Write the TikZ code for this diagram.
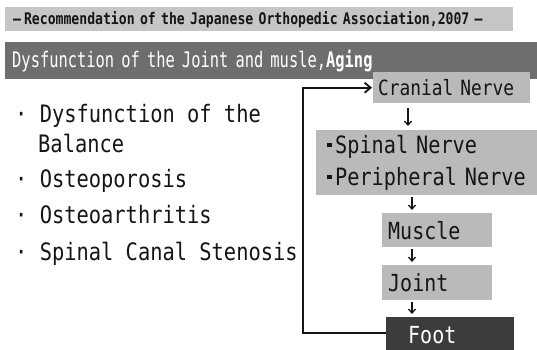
\documentclass[tikz,border=0pt]{standalone}
\usepackage{fontspec}
\usetikzlibrary{arrows.meta}
\newfontfamily\monoA[FakeStretch=0.82]{DejaVu Sans Mono}
\newfontfamily\monoB[FakeStretch=0.72]{DejaVu Sans Mono}
\newfontfamily\monoC[FakeStretch=0.85]{DejaVu Sans Mono}
\definecolor{barlight}{HTML}{C6C6C6}
\definecolor{bardark}{HTML}{6E6E6E}
\definecolor{boxgray}{HTML}{BABABA}
\definecolor{footdark}{HTML}{3C3C3C}
\definecolor{ink}{HTML}{151515}
\newcommand{\sqbul}{\makebox[12pt][c]{\rule[6.5pt]{5pt}{3.5pt}}}
\begin{document}
\begin{tikzpicture}[x=1pt,y=-1pt,
  box/.style={fill=boxgray, text=ink, inner ysep=0pt, anchor=north west, align=left},
  item/.style={inner sep=0pt, anchor=base west, text=ink, font=\monoC\fontsize{24}{28}\selectfont},
  arr/.style={draw=ink, line width=1.3pt, -{Straight Barb[length=4pt,width=7pt]}},
  fbline/.style={draw=ink, line width=1.8pt, -{Straight Barb[length=6pt,width=10pt]}}]
\useasboundingbox (0,0) rectangle (537,349);
\fill[white] (0,0) rectangle (537,349);

% header bars
\node[fill=barlight, text=ink, anchor=north west, minimum height=24pt, inner xsep=8pt, inner ysep=0pt, text width=492pt, align=left,
  font=\monoA\bfseries\fontsize{16}{18}\selectfont] (top) at (5,7) {—\kern3pt Recommendation of the Japanese Orthopedic Association,2007 —};
\node[fill=bardark, text=white, anchor=north west, minimum height=37pt, inner xsep=7pt, inner ysep=0pt, text width=518pt, align=left,
  font=\monoB\fontsize{21.4}{24}\selectfont] (title) at (5,42) {Dysfunction of the Joint and musle,\textbf{Aging}};

% left list
\node[item] (l1) at (15,122) {· Dysfunction of the};
\node[item] (l1b) at (38,152) {Balance};
\node[item] (l2) at (15,187) {· Osteoporosis};
\node[item] (l3) at (15,223) {· Osteoarthritis};
\node[item] (l4) at (15,260) {· Spinal Canal Stenosis};

% right chain
\node[box, inner xsep=5pt, text width=147pt, minimum height=31pt, font=\monoC\fontsize{21}{25}\selectfont] (cranial) at (373,72) {Cranial Nerve};
\node[box, inner xsep=7pt, text width=207pt, minimum height=65pt, font=\monoC\fontsize{23.8}{32}\selectfont] (spinal) at (316,130) {\sqbul Spinal Nerve\\\sqbul Peripheral Nerve};
\node[box, inner xsep=6pt, text width=98pt, minimum height=34pt, font=\monoC\fontsize{23.5}{28}\selectfont] (muscle) at (382,213) {Muscle};
\node[box, inner xsep=6pt, text width=98pt, minimum height=35pt, font=\monoC\fontsize{23.5}{28}\selectfont] (joint) at (382,265) {Joint};
\node[box, fill=footdark, text=white, inner xsep=22pt, text width=84pt, minimum height=36pt, font=\monoC\fontsize{23.5}{28}\selectfont] (foot) at (386,317) {Foot};

\coordinate (a1) at (408,0);
\coordinate (a2) at (412,0);
\draw[arr, shorten <=5pt, shorten >=4pt] (cranial.south -| a1) -- (spinal.north -| a1);
\draw[arr, shorten <=2pt, shorten >=3pt] (spinal.south -| a2) -- (muscle.north -| a2);
\draw[arr, shorten <=2pt, shorten >=3pt] (muscle.south -| a2) -- (joint.north -| a2);
\draw[arr, shorten <=2pt, shorten >=3pt] (joint.south -| a2) -- (foot.north -| a2);

\coordinate (fb) at (303,333);
\draw[fbline, shorten >=1pt] (foot.west |- fb) -- (fb) |- (cranial.west);
\end{tikzpicture}
\end{document}
